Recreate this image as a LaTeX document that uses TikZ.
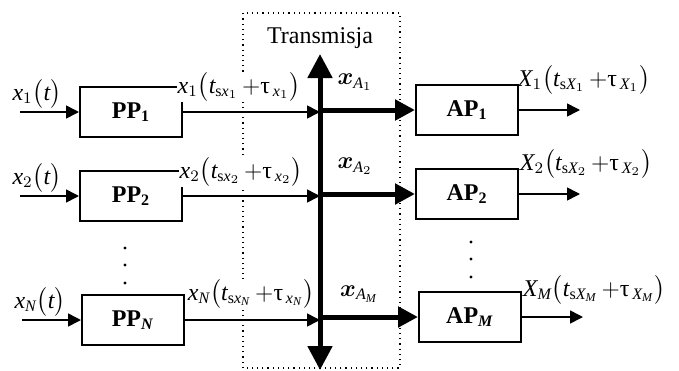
\documentclass[tikz,border=0pt]{standalone}
\usepackage{amsmath}
\usepackage{fontspec}
\setmainfont{Liberation Serif}
\usepackage{tikz}
\usetikzlibrary{arrows.meta, positioning}

\newcommand{\tauup}{\text{τ}}

\begin{document}
\begin{tikzpicture}[
  x=0.5pt, y=-0.5pt,
  font=\fontsize{12}{14}\selectfont,
  box/.style={draw, line width=1pt, minimum width=51pt, minimum height=25pt, inner sep=0pt, font=\fontsize{12}{14}\selectfont\bfseries},
  arrow/.style={line width=0.8pt, -{Triangle[length=6.5pt, width=6.5pt]}},
  bigarrow/.style={line width=2.5pt, -{Triangle[length=10pt, width=10pt]}},
  lbl/.style={fill=white, inner sep=0.5pt},
  dotnode/.style={circle, fill, inner sep=0pt, minimum size=1.6pt}
]
\useasboundingbox (0,0) rectangle (679,370);

% transmission frame
\draw[dotted, line width=0.6pt] (243,368) -- (243,13) -- (400,13) -- (400,368) -- cycle;

% processing blocks
\node[box] (pp1) at (131,112) {PP\textsubscript{1}};
\node[box] (pp2) at (131,196) {PP\textsubscript{2}};
\node[box] (ppN) at (133,320) {PP\textsubscript{\textit{N}}};
\node[box] (ap1) at (467,110) {AP\textsubscript{1}};
\node[box] (ap2) at (467,194) {AP\textsubscript{2}};
\node[box] (apM) at (470,317) {AP\textsubscript{\textit{M}}};

% bus
\coordinate (top) at (320,54);
\coordinate (bot) at (320,370);
\coordinate (j1) at (320,112);
\coordinate (j2) at (320,196);
\coordinate (jN) at (320,320);
\coordinate (k1) at (320,110);
\coordinate (k2) at (320,194);
\coordinate (kM) at (320,317);
\node[above=-1pt of top] (trans) {Transmisja};
\draw[line width=2.5pt, {Triangle[length=12pt, width=12pt]}-{Triangle[length=12pt, width=12pt]}] (top) -- (bot);

% inputs and outputs
\coordinate (in1) at (20,112);
\coordinate (in2) at (20,196);
\coordinate (inN) at (22,320);
\coordinate (out1) at (580,110);
\coordinate (out2) at (580,194);
\coordinate (outM) at (583,317);

\draw[arrow] (in1) -- (pp1);
\draw[arrow] (in2) -- (pp2);
\draw[arrow] (inN) -- (ppN);
\draw[arrow] (pp1) -- (j1);
\draw[arrow] (pp2) -- (j2);
\draw[arrow] (ppN) -- (jN);
\draw[bigarrow] (k1) -- (ap1);
\draw[bigarrow] (k2) -- (ap2);
\draw[bigarrow] (kM) -- (apM);
\draw[arrow] (ap1) -- (out1);
\draw[arrow] (ap2) -- (out2);
\draw[arrow] (apM) -- (outM);

% labels
\node (lin1) at (37,94) {$\mathit{x}_1\bigl(\mathit{t}\bigr)$};
\node (lin2) at (37,178) {$\mathit{x}_2\bigl(\mathit{t}\bigr)$};
\node (linN) at (40,302) {$\mathit{x}_{\mathit{N}}\bigl(\mathit{t}\bigr)$};
\node[lbl] (lout1) at (239,87) {$\mathit{x}_1\bigl(\mathit{t}_{\mathrm{s}\mathit{x}_1}\,{+}\tauup_{\,\mathit{x}_1}\bigr)$};
\node[lbl] (lout2) at (241,172) {$\mathit{x}_2\bigl(\mathit{t}_{\mathrm{s}\mathit{x}_2}\,{+}\tauup_{\,\mathit{x}_2}\bigr)$};
\node[lbl] (loutN) at (251,294) {$\mathit{x}_{\mathit{N}}\bigl(\mathit{t}_{\mathrm{s}\mathit{x}_{\mathit{N}}}\,{+}\tauup_{\,\mathit{x}_{\mathit{N}}}\bigr)$};
\node (la1) at (355,82) {$\boldsymbol{x}_{\mathit{A}_1}$};
\node (la2) at (355,166) {$\boldsymbol{x}_{\mathit{A}_2}$};
\node (laM) at (359,294) {$\boldsymbol{x}_{\mathit{A}_{\mathit{M}}}$};
\node (lo1) at (584,80) {$\mathit{X}_1\bigl(\mathit{t}_{\mathrm{s}\mathit{X}_1}\,{+}\tauup_{\,\mathit{X}_1}\bigr)$};
\node (lo2) at (586,164) {$\mathit{X}_2\bigl(\mathit{t}_{\mathrm{s}\mathit{X}_2}\,{+}\tauup_{\,\mathit{X}_2}\bigr)$};
\node (loM) at (594,290) {$\mathit{X}_{\mathit{M}}\bigl(\mathit{t}_{\mathrm{s}\mathit{X}_{\mathit{M}}}\,{+}\tauup_{\,\mathit{X}_{\mathit{M}}}\bigr)$};

% ellipsis dots
\foreach \y in {248,265,283} \node[dotnode] at (125,\y) {};
\foreach \y in {242,259,277} \node[dotnode] at (471,\y) {};
\end{tikzpicture}
\end{document}
